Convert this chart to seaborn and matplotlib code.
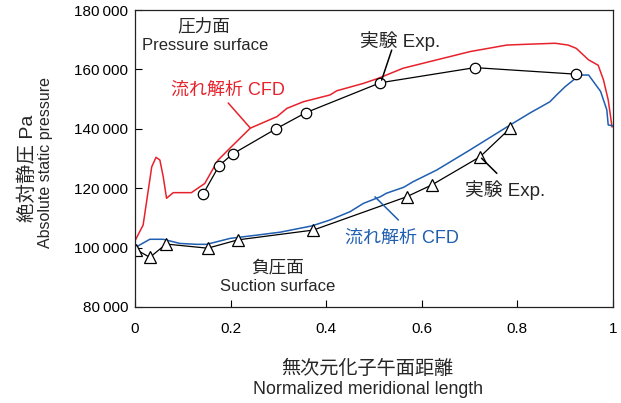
import matplotlib
matplotlib.use("Agg")
import matplotlib.pyplot as plt
import seaborn as sns

# pressure surface, experiment (circles)
ps_exp_x = [0.142, 0.176, 0.204, 0.294, 0.357, 0.513, 0.711, 0.922]
ps_exp_y = [117900, 127600, 131500, 139900, 145400, 155500, 160600, 158400]

# suction surface, experiment (triangles)
ss_exp_x = [0.003, 0.031, 0.065, 0.152, 0.215, 0.373, 0.568, 0.621, 0.722, 0.785]
ss_exp_y = [99300, 96700, 101200, 99800, 102600, 105900, 117100, 121100, 130600, 140200]

# pressure surface, CFD
ps_cfd_x = [0.0, 0.017, 0.035, 0.044, 0.052, 0.059, 0.066, 0.080, 0.118, 0.146, 0.160,
            0.174, 0.195, 0.241, 0.297, 0.318, 0.352, 0.408, 0.422, 0.478, 0.509,
            0.561, 0.631, 0.701, 0.778, 0.826, 0.879, 0.906, 0.923, 0.949, 0.969,
            0.980, 0.990, 0.998]
ps_cfd_y = [102300, 107600, 127200, 130400, 129500, 123900, 116600, 118500, 118500, 121600, 125600,
            129500, 132900, 140200, 144100, 146900, 149100, 151400, 152800, 155300, 157000,
            160400, 163200, 166000, 168200, 168500, 168800, 168200, 167100, 163200, 161400,
            156500, 149700, 140600]

# suction surface, CFD
ss_cfd_x = [0.0, 0.010, 0.031, 0.059, 0.094, 0.129, 0.150, 0.199, 0.255, 0.304, 0.370, 0.408,
            0.450, 0.478, 0.513, 0.526, 0.562, 0.582, 0.631, 0.701, 0.757, 0.785, 0.826, 0.868,
            0.882, 0.900, 0.917, 0.931, 0.949, 0.974, 0.987, 0.990, 0.997, 1.0]
ss_cfd_y = [99800, 100900, 102800, 102800, 101400, 101100, 101100, 103100, 104200, 105200, 107300, 109300,
            112100, 114900, 117100, 118300, 120300, 122200, 126100, 132900, 138500, 141300, 145300, 149100,
            151400, 154200, 156400, 158100, 158100, 152600, 146400, 141300, 141100, 140900]

red = "#e8222c"
blue = "#1f5eb0"
fams = ["Liberation Sans", "Noto Sans CJK JP", "DejaVu Sans"]

sns.set_style("ticks")
plt.rcParams["font.family"] = fams
plt.rcParams["font.size"] = 11

fig = plt.figure(figsize=(6.21, 4.03), dpi=100)
ax = fig.add_axes([135 / 621, 1 - 307 / 403, 478 / 621, 297 / 403])

sns.lineplot(x=ps_cfd_x, y=ps_cfd_y, sort=False, color=red, lw=1.1, ax=ax)
sns.lineplot(x=ss_cfd_x, y=ss_cfd_y, sort=False, color=blue, lw=1.1, ax=ax)
sns.lineplot(x=ps_exp_x, y=ps_exp_y, sort=False, color="black", lw=0.9, marker="o",
             markersize=7.5, markerfacecolor="white", markeredgecolor="black",
             markeredgewidth=0.9, ax=ax)
sns.lineplot(x=ss_exp_x, y=ss_exp_y, sort=False, color="black", lw=0.9, marker="^",
             markersize=8.5, markerfacecolor="white", markeredgecolor="black",
             markeredgewidth=0.9, ax=ax)

ax.set_xlim(0, 1)
ax.set_ylim(80000, 180000)
ax.set_xticks([0, 0.2, 0.4, 0.6, 0.8, 1])
ax.set_xticklabels(["0", "0.2", "0.4", "0.6", "0.8", "1"])
yt = [80000, 100000, 120000, 140000, 160000, 180000]
ax.set_yticks(yt)
ax.set_yticklabels([f"{v:,}".replace(",", "\u2009") for v in yt])
ax.tick_params(direction="in", length=5, width=0.8, labelsize=11, colors="black")
ax.tick_params(axis="x", pad=11)
ax.tick_params(axis="y", pad=5)
for s in ax.spines.values():
    s.set_linewidth(0.9)
    s.set_color("#222222")
ax.set_xlabel("")
ax.set_ylabel("")

# annotations
ax.text(0.144, 174300, "圧力面", ha="center", va="center", fontsize=12.7)
ax.text(0.146, 167900, "Pressure surface", ha="center", va="center", fontsize=12)
ax.text(0.298, 93100, "負圧面", ha="center", va="center", fontsize=12.7)
ax.text(0.298, 86900, "Suction surface", ha="center", va="center", fontsize=12)
ax.text(0.194, 153000, "流れ解析 CFD", ha="center", va="center", fontsize=13, color=red)
ax.text(0.559, 103200, "流れ解析 CFD", ha="center", va="center", fontsize=13, color=blue)
ax.text(0.554, 169500, "実験 Exp.", ha="center", va="center", fontsize=13.5)
ax.text(0.774, 119400, "実験 Exp.", ha="center", va="center", fontsize=13.5)

lead = dict(arrowstyle="-", shrinkA=0, shrinkB=0, lw=1.1)
ax.annotate("", xy=(0.241, 140300), xytext=(0.195, 148700), arrowprops={**lead, "color": red})
ax.annotate("", xy=(0.502, 117100), xytext=(0.551, 109300), arrowprops={**lead, "color": blue})
ax.annotate("", xy=(0.516, 156400), xytext=(0.537, 166500), arrowprops={**lead, "color": "black"})
ax.annotate("", xy=(0.725, 130100), xytext=(0.757, 125000), arrowprops={**lead, "color": "black"})

# axis titles
fig.text(28 / 621, 1 - 168 / 403, "絶対静圧 Pa", rotation=90, ha="center", va="center", fontsize=14)
fig.text(46 / 621, 1 - 162 / 403, "Absolute static pressure", rotation=90, ha="center", va="center", fontsize=11.5)
fig.text(367 / 621, 1 - 369 / 403, "無次元化子午面距離", ha="center", va="center", fontsize=13.8)
fig.text(368 / 621, 1 - 390 / 403, "Normalized meridional length", ha="center", va="center", fontsize=12.8)

fig.savefig("out.png", dpi=100)
